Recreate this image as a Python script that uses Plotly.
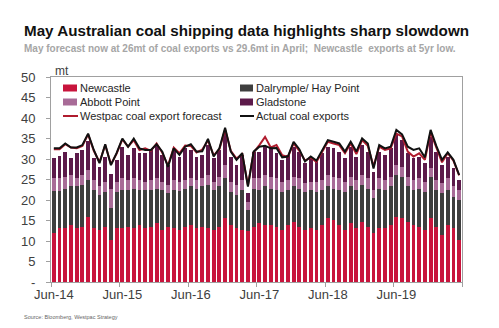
import pandas as pd
import plotly.graph_objects as go

months = list(pd.date_range("2014-06-01", periods=72, freq="MS").strftime("%b-%y"))

newcastle = [11.9, 13.1, 13.1, 13.9, 13.1, 13.5, 15.9, 13.1, 12.7, 13.5, 10.2, 13.1,
             13.1, 13.5, 13.1, 13.9, 13.1, 13.5, 14.3, 12.7, 13.5, 13.1, 12.7, 13.5,
             13.9, 13.1, 13.5, 13.1, 12.7, 13.5, 15.5, 13.9, 13.1, 12.7, 12.5, 13.5,
             14.3, 13.9, 13.9, 13.5, 12.7, 13.9, 14.7, 13.5, 12.7, 13.1, 12.7, 13.9,
             15.5, 15.1, 13.9, 12.7, 14.3, 13.1, 14.7, 13.5, 11.9, 13.1, 13.1, 13.9,
             15.9, 15.5, 14.7, 13.9, 13.5, 12.7, 15.5, 13.5, 11.5, 13.9, 13.1, 10.2]
dalrymple = [10.3, 9.1, 9.6, 9.6, 10.2, 10.2, 9.0, 9.3, 8.5, 8.5, 7.8, 8.9,
             9.3, 8.9, 9.6, 8.5, 9.3, 8.9, 8.5, 9.7, 8.1, 9.3, 9.5, 9.2,
             9.4, 9.7, 9.8, 10.6, 9.7, 9.8, 9.8, 8.1, 8.1, 9.7, 5.0, 9.3,
             8.1, 9.4, 8.9, 8.9, 9.3, 8.5, 8.6, 9.3, 9.3, 9.3, 9.3, 8.5,
             7.8, 7.7, 8.5, 9.3, 9.0, 9.3, 9.0, 9.3, 8.5, 9.7, 9.3, 9.4,
             10.2, 10.2, 8.6, 8.5, 9.3, 9.3, 10.2, 8.9, 10.1, 8.5, 7.7, 9.8]
abbott = [3.1, 3.1, 3.0, 2.6, 2.0, 2.4, 2.4, 2.5, 2.1, 2.5, 4.8, 2.5,
          2.9, 2.5, 2.6, 2.5, 2.1, 2.5, 2.5, 2.1, 2.1, 2.5, 2.3, 2.2,
          2.0, 2.1, 2.0, 2.4, 2.1, 2.4, 3.2, 2.5, 2.5, 2.5, 2.0, 2.5,
          2.9, 2.8, 2.9, 2.9, 2.5, 2.5, 2.4, 2.5, 2.1, 2.1, 2.5, 2.5,
          2.8, 2.9, 2.9, 2.5, 2.4, 2.5, 2.4, 2.5, 2.0, 2.5, 2.5, 2.4,
          2.4, 2.4, 2.4, 2.5, 2.5, 2.5, 2.0, 2.5, 2.5, 2.9, 2.5, 2.4]
gladstone = [5.0, 5.5, 6.1, 4.2, 6.1, 6.1, 7.1, 5.4, 4.8, 6.1, 3.5, 5.3,
             7.7, 6.1, 7.3, 6.5, 6.9, 7.3, 8.1, 6.5, 4.8, 7.3, 6.1, 7.7,
             6.9, 5.7, 5.7, 7.3, 5.7, 6.5, 7.8, 6.1, 4.8, 6.1, 2.1, 6.5,
             6.5, 6.9, 6.9, 6.1, 5.3, 6.1, 7.3, 6.5, 4.9, 5.7, 4.9, 6.5,
             6.9, 6.9, 6.5, 5.7, 7.3, 5.7, 7.3, 6.5, 4.5, 6.5, 6.1, 6.9,
             7.4, 6.5, 5.7, 5.3, 5.3, 4.5, 7.7, 6.9, 4.4, 5.3, 4.4, 2.5]
forecast = [32.4, 32.4, 33.6, 32.8, 32.6, 33.2, 36.0, 32.0, 29.2, 33.4, 28.7, 31.3,
            34.8, 33.0, 34.6, 32.2, 32.6, 32.0, 33.8, 31.5, 28.4, 32.8, 31.4, 33.3,
            33.2, 31.6, 32.3, 34.5, 30.9, 32.4, 37.2, 32.0, 30.1, 31.2, 23.6, 31.6,
            33.4, 35.4, 32.8, 33.4, 30.9, 30.5, 33.8, 32.0, 29.6, 30.4, 29.3, 31.6,
            34.2, 33.8, 33.4, 31.4, 33.8, 31.2, 34.6, 33.2, 28.2, 33.0, 32.2, 32.6,
            36.2, 35.5, 31.8, 30.6, 31.4, 29.8, 36.5, 32.8, 29.2, 31.4, 29.6, 26.0]
actual = [32.6, 32.6, 33.8, 32.8, 32.8, 33.4, 36.2, 32.2, 29.0, 33.6, 28.5, 31.5,
          35.0, 33.0, 35.0, 32.6, 32.2, 32.2, 33.6, 31.8, 28.1, 32.6, 31.0, 33.0,
          33.6, 31.8, 31.9, 34.9, 30.6, 32.6, 37.6, 31.8, 29.8, 31.4, 23.3, 31.8,
          33.0, 33.2, 32.6, 32.7, 30.4, 30.6, 34.2, 32.4, 29.4, 30.6, 29.6, 32.0,
          34.6, 34.2, 33.8, 31.8, 34.2, 31.8, 35.0, 33.8, 27.7, 33.4, 32.6, 33.0,
          37.1, 36.0, 33.0, 32.2, 32.6, 30.4, 37.1, 33.2, 29.8, 31.6, 29.8, 26.1]

y_ticks = [0, 5, 10, 15, 20, 25, 30, 35, 40, 45, 50]
y_ticktext = ["-", "5", "10", "15", "20", "25", "30", "35", "40", "45", "50"]

C_NEW = "#c8143c"
C_DAL = "#3e3e3e"
C_ABB = "#a86b97"
C_GLA = "#5c1a4a"
C_FC = "#b01c2e"
C_ACT = "#111111"

FONT = "Liberation Sans, Arial, sans-serif"

fig = go.Figure()
for name, vals, col in [("Newcastle", newcastle, C_NEW), ("Dalrymple/ Hay Point", dalrymple, C_DAL),
                        ("Abbott Point", abbott, C_ABB), ("Gladstone", gladstone, C_GLA)]:
    fig.add_trace(go.Bar(x=months, y=vals, name=name, marker=dict(color=col, line=dict(width=0)),
                         showlegend=False))
fig.add_trace(go.Scatter(x=months, y=forecast, mode="lines", name="Westpac coal export forecast",
                         line=dict(color=C_FC, width=2), showlegend=False))
fig.add_trace(go.Scatter(x=months, y=actual, mode="lines", name="Actual coal exports",
                         line=dict(color=C_ACT, width=2), showlegend=False))

L, R, T, B = 51, 462, 77, 282
W, H = R - L, B - T


def px(x):
    return (x - L) / W


def py(y):
    return (B - y) / H


annotations = [
    dict(text="May Australian coal shipping data highlights sharp slowdown", x=px(22), y=py(30),
         xref="paper", yref="paper", xanchor="left", yanchor="middle", showarrow=False,
         font=dict(family=FONT, size=15.2, color="#111111", weight="bold")),
    dict(text="May forecast now at 26mt of coal exports vs 29.6mt in April;  Newcastle  exports at 5yr low.",
         x=px(22), y=py(48), xref="paper", yref="paper", xanchor="left", yanchor="middle",
         showarrow=False, font=dict(family=FONT, size=10, color="#a6a6a6", weight="bold")),
    dict(text="mt", x=px(53), y=py(71), xref="paper", yref="paper", xanchor="left", yanchor="middle",
         showarrow=False, font=dict(family=FONT, size=12, color="#404040")),
    dict(text="Source: Bloomberg, Westpac Strategy", x=px(22), y=py(317), xref="paper", yref="paper",
         xanchor="left", yanchor="middle", showarrow=False,
         font=dict(family=FONT, size=5.5, color="#666666")),
]

shapes = []
legend_items = [
    ("Newcastle", C_NEW, "box", 63, 78, 88),
    ("Dalrymple/ Hay Point", C_DAL, "box", 240, 254, 88),
    ("Abbott Point", C_ABB, "box", 63, 78, 102),
    ("Gladstone", C_GLA, "box", 240, 254, 102),
    ("Westpac coal export forecast", C_FC, "line", 63, 78, 116),
    ("Actual coal exports", C_ACT, "line", 240, 254, 116),
]
for label, col, kind, sx, tx, cy in legend_items:
    if kind == "box":
        shapes.append(dict(type="rect", xref="paper", yref="paper", x0=px(sx), x1=px(tx - 1),
                           y0=py(cy + 3.5), y1=py(cy - 3.5), fillcolor=col, line=dict(width=0)))
    else:
        shapes.append(dict(type="line", xref="paper", yref="paper", x0=px(sx), x1=px(tx),
                           y0=py(cy), y1=py(cy), line=dict(color=col, width=2)))
    annotations.append(dict(text=label, x=px(tx), y=py(cy), xref="paper", yref="paper",
                            xanchor="left", yanchor="middle", showarrow=False,
                            font=dict(family=FONT, size=11, color="#262626")))

fig.update_layout(
    width=499, height=328,
    margin=dict(l=L, r=499 - R, t=T, b=328 - B, pad=0),
    barmode="stack", bargap=0.33,
    plot_bgcolor="white", paper_bgcolor="white",
    font=dict(family=FONT, color="#404040"),
    annotations=annotations, shapes=shapes,
    xaxis=dict(type="category", tickmode="linear", tick0=0, dtick=12, tickson="boundaries",
               ticks="outside", ticklen=4, tickcolor="#a0a0a0",
               showline=True, linecolor="#a0a0a0", mirror=True, showgrid=False,
               tickfont=dict(size=13, color="#404040"), tickangle=0),
    yaxis=dict(range=[0, 50], tickvals=y_ticks, ticktext=y_ticktext, ticks="outside", ticklen=4,
               tickcolor="#a0a0a0", showline=True, linecolor="#a0a0a0", mirror=True,
               showgrid=False, zeroline=False, ticklabelstandoff=8,
               tickfont=dict(size=13, color="#404040")),
)

fig.write_html("out.html")
